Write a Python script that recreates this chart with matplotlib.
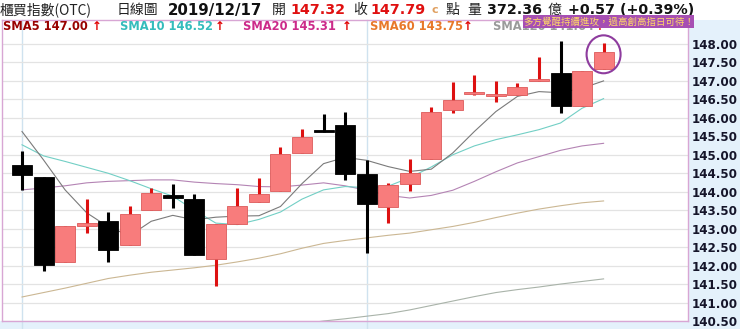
import numpy as np
import matplotlib
matplotlib.use("Agg")
from matplotlib import pyplot as plt
from matplotlib.patches import Rectangle, Ellipse

# daily candles, 2019/11/08 .. 2019/12/17
opens = [144.73, 144.40, 142.10, 143.06, 143.22, 142.55, 143.51, 143.91, 143.81, 142.18,
         143.13, 143.72, 144.03, 145.06, 145.65, 145.81, 144.48, 143.58, 144.22, 144.89,
         146.20, 146.65, 146.58, 146.62, 147.00, 147.21, 146.31, 147.32]
highs = [145.09, 144.40, 143.06, 143.80, 143.46, 143.62, 144.11, 144.22, 143.95, 143.13,
         144.10, 144.37, 145.20, 145.70, 146.11, 146.17, 144.86, 144.24, 144.89, 146.28,
         146.98, 147.16, 147.01, 146.95, 147.66, 148.09, 147.27, 148.03]
lows = [144.04, 141.86, 142.10, 142.88, 142.10, 142.55, 143.51, 143.56, 142.30, 141.44,
        143.13, 143.72, 144.03, 145.06, 145.63, 144.31, 142.34, 143.14, 144.03, 144.89,
        146.13, 146.62, 146.44, 146.62, 147.00, 146.14, 146.31, 147.32]
closes = [144.46, 142.01, 143.06, 143.14, 142.43, 143.40, 143.96, 143.82, 142.30, 143.13,
          143.62, 143.95, 145.03, 145.48, 145.63, 144.48, 143.68, 144.17, 144.50, 146.16,
          146.47, 146.67, 146.65, 146.83, 147.02, 146.31, 147.27, 147.79]

sma5 = [145.63, 144.86, 144.05, 143.43, 143.05, 142.81, 143.20, 143.36, 143.24, 143.31,
        143.34, 143.35, 143.60, 144.22, 144.76, 144.93, 144.85, 144.68, 144.55, 144.61,
        145.05, 145.63, 146.17, 146.58, 146.71, 146.68, 146.80, 147.00]
sma10 = [145.27, 144.97, 144.82, 144.66, 144.50, 144.30, 144.08, 143.88, 143.50, 143.15,
         143.11, 143.25, 143.45, 143.80, 144.05, 144.14, 144.11, 144.15, 144.38, 144.67,
         145.00, 145.24, 145.41, 145.54, 145.68, 145.86, 146.26, 146.52]
sma20 = [144.05, 144.10, 144.16, 144.24, 144.28, 144.30, 144.32, 144.32, 144.26, 144.22,
         144.19, 144.14, 144.13, 144.18, 144.24, 144.16, 144.04, 143.90, 143.83, 143.90,
         144.04, 144.28, 144.54, 144.78, 144.95, 145.12, 145.24, 145.31]
sma60 = [141.15, 141.27, 141.39, 141.52, 141.65, 141.74, 141.82, 141.88, 141.94, 142.01,
         142.10, 142.20, 142.32, 142.47, 142.60, 142.68, 142.75, 142.82, 142.88, 142.97,
         143.06, 143.17, 143.30, 143.42, 143.53, 143.62, 143.70, 143.75]
# SMA120 only enters the visible range from the 14th candle on
sma120 = [140.42, 140.50, 140.56, 140.63, 140.70, 140.80, 140.92, 141.04, 141.16,
          141.27, 141.35, 141.42, 141.50, 141.57, 141.64]

yticks = np.arange(140.5, 148.01, 0.5)

W, H = 740, 329
def fx(x):
    return x / W
def fy(y):
    return 1 - y / H

fig = plt.figure(figsize=(7.4, 3.29), dpi=100)
fig.patch.set_facecolor("white")

# light blue side/bottom strips
blue = "#e4f1fb"
fig.patches.append(Rectangle((fx(688), 0), 1 - fx(688), fy(20), transform=fig.transFigure,
                             facecolor=blue, edgecolor="none", zorder=-5))
fig.patches.append(Rectangle((0, 0), 1, fy(321), transform=fig.transFigure,
                             facecolor=blue, edgecolor="none", zorder=-5))

ax = fig.add_axes([fx(2), fy(321), fx(686), (321 - 20) / H])
ax.set_facecolor("white")
n = len(opens)
xs = np.arange(n)
ax.set_xlim((2 - 22) / 21.54, (688 - 22) / 21.54)
ax.set_ylim(148 - (321 - 44) / 37, 148 + 24 / 37)

for s in ax.spines.values():
    s.set_color("#d8a6d4")
    s.set_linewidth(1)

ax.set_yticks(yticks)
ax.set_yticklabels(["%.2f" % t for t in yticks])
ax.yaxis.tick_right()
ax.tick_params(axis="y", length=0, pad=3, labelsize=8.6, labelcolor="#15152a")
for lb in ax.get_yticklabels():
    lb.set_fontweight("bold")
ax.set_xticks([])
ax.grid(axis="y", color="#e3e3e3", linewidth=0.9)
ax.set_axisbelow(True)

for xv in (0, 16):
    ax.axvline(xv, ymin=-0.03, ymax=1, color="#cfe2ef", linewidth=1, clip_on=False, zorder=0.5)

# moving averages
ax.plot(xs, sma60, color="#cbb793", lw=0.8, zorder=1)
ax.plot(xs[13:], sma120, color="#a9b3a9", lw=0.8, zorder=1)
ax.plot(xs, sma20, color="#b484b4", lw=0.8, zorder=1)
ax.plot(xs, sma10, color="#72cfc5", lw=0.8, zorder=1)
ax.plot(xs, sma5, color="#7a7a7a", lw=0.8, zorder=1)

# candles
bw = 20 / 21.54
for i in range(n):
    o, h, l, c = opens[i], highs[i], lows[i], closes[i]
    up = c >= o
    wick = "#dd1111" if up else "black"
    ax.vlines(i, l, h, color=wick, linewidth=2.2, zorder=2)
    lo = min(o, c)
    ht = max(abs(c - o), 0.05)
    if up:
        ax.add_patch(Rectangle((i - bw / 2, lo), bw, ht, facecolor="#f87c7c",
                               edgecolor="#dd5a5a", linewidth=0.6, zorder=3))
    else:
        ax.add_patch(Rectangle((i - bw / 2, lo), bw, ht, facecolor="black",
                               edgecolor="black", linewidth=0.6, zorder=3))

# highlight circle around the last candle
ax.add_patch(Ellipse((n - 1, 147.72), 34 / 21.54, 38 / 37, fill=False,
                     edgecolor="#8e3c9e", linewidth=1.5, zorder=4, clip_on=False))

# header row
cjk = ["Noto Sans CJK TC", "DejaVu Sans"]
hy = fy(10)
def htext(x, s, **kw):
    fig.text(fx(x), hy, s, va="center", ha="left", **kw)

htext(0, "櫃買指數(OTC)", family=cjk, fontsize=10, color="#222222")
htext(117, "日線圖", family=cjk, fontsize=10, color="#222222")
htext(168, "2019/12/17", fontsize=10.8, fontweight="bold", color="#111111")
htext(272, "開", family=cjk, fontsize=10, color="#222222")
htext(290, "147.32", fontsize=10.3, fontweight="bold", color="#e01010")
htext(353, "收", family=cjk, fontsize=10, color="#222222")
htext(370, "147.79", fontsize=10.3, fontweight="bold", color="#e01010")
htext(431, "c", fontsize=8, fontweight="bold", color="#e0a060")
htext(445, "點", family=cjk, fontsize=10, color="#222222")
htext(467, "量", family=cjk, fontsize=10, color="#222222")
htext(487, "372.36", fontsize=10.3, fontweight="bold", color="#111111")
htext(548, "億", family=cjk, fontsize=10, color="#222222")
htext(568, "+0.57 (+0.39%)", fontsize=10.3, fontweight="bold", color="#111111")

# SMA legend row
ly = fy(27)
legend = [(3, "SMA5 147.00", "#990000", 92),
          (120, "SMA10 146.52", "#35bcbc", 215),
          (243, "SMA20 145.31", "#cc2a8a", 342),
          (370, "SMA60 143.75", "#e8782a", 463),
          (493, "SMA120 141.64", "#9a9a9a", 595)]
for x0, s, col, xa in legend:
    fig.text(fx(x0), ly, s, va="center", ha="left", fontsize=8.3, fontweight="bold", color=col)
    fig.text(fx(xa), ly, "↑", va="center", ha="left", fontsize=8.5, fontweight="bold", color="#e00000")

# promo box
fig.patches.append(Rectangle((fx(523), fy(28)), fx(694 - 523), (28 - 15.3) / H,
                             transform=fig.transFigure, facecolor="#a64fb3",
                             edgecolor="none", zorder=5))
fig.text(fx(608.5), fy(21.7), "多方覺醒持續進攻，過高創高指日可待！", family=cjk,
         fontsize=6.8, color="#ffd966", ha="center", va="center", zorder=6)

fig.savefig("out.png", dpi=100)
